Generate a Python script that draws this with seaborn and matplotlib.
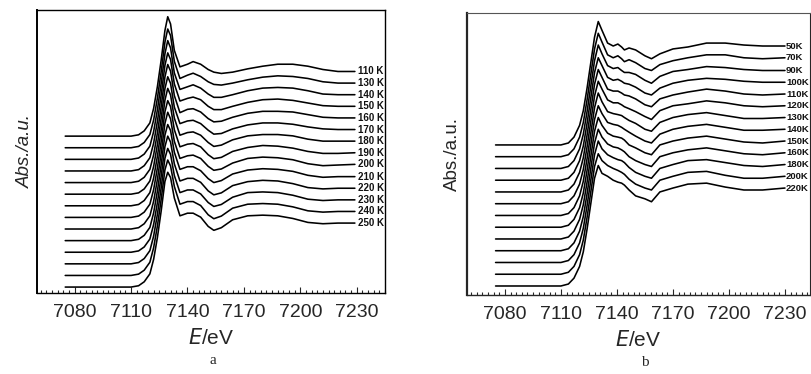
import numpy as np
import pandas as pd
import matplotlib
matplotlib.use("Agg")
import matplotlib.pyplot as plt
import seaborn as sns
from matplotlib.ticker import MultipleLocator

sns.set_style("ticks")
plt.rcParams["font.family"] = ["Liberation Sans", "DejaVu Sans"]

# ---------------- panel a data ----------------
labels_a = ["110 K", "130 K", "140 K", "150 K", "160 K", "170 K", "180 K",
            "190 K", "200 K", "210 K", "220 K", "230 K", "240 K", "250 K"]
edge_E_a = [7075, 7110, 7114, 7117, 7120, 7122, 7124, 7126, 7128]
edge_mu_a = [0.0, 0.0, 0.02, 0.08, 0.20, 0.42, 0.75, 1.15, 1.60]
post_E_a = [7129.5, 7131, 7133, 7136, 7140, 7143, 7147, 7151, 7154, 7158,
            7164, 7172, 7180, 7188, 7196, 7204, 7212, 7220, 7229]
post_mu_a = [
    [1.81, 1.70, 1.30, 1.05, 1.09, 1.13, 1.09, 1.01, 0.97, 0.95, 0.97, 1.02, 1.06, 1.09, 1.09, 1.06, 1.01, 0.98, 0.98],
    [1.80, 1.70, 1.31, 1.05, 1.10, 1.13, 1.08, 1.00, 0.96, 0.95, 0.98, 1.03, 1.07, 1.09, 1.08, 1.05, 1.00, 0.98, 0.98],
    [1.80, 1.69, 1.31, 1.06, 1.10, 1.13, 1.08, 0.99, 0.94, 0.94, 0.98, 1.04, 1.08, 1.09, 1.08, 1.04, 0.99, 0.98, 0.98],
    [1.79, 1.69, 1.32, 1.06, 1.10, 1.12, 1.08, 0.98, 0.93, 0.93, 0.98, 1.04, 1.08, 1.09, 1.07, 1.03, 0.99, 0.98, 0.98],
    [1.79, 1.69, 1.32, 1.06, 1.11, 1.12, 1.07, 0.97, 0.92, 0.93, 0.99, 1.05, 1.08, 1.08, 1.07, 1.03, 0.99, 0.98, 0.98],
    [1.78, 1.68, 1.32, 1.07, 1.11, 1.12, 1.07, 0.97, 0.91, 0.92, 0.99, 1.05, 1.08, 1.08, 1.06, 1.02, 0.99, 0.98, 0.98],
    [1.78, 1.68, 1.33, 1.07, 1.11, 1.12, 1.07, 0.96, 0.90, 0.92, 1.00, 1.06, 1.08, 1.08, 1.06, 1.01, 0.98, 0.98, 0.98],
    [1.77, 1.68, 1.33, 1.07, 1.11, 1.12, 1.07, 0.95, 0.89, 0.91, 1.00, 1.06, 1.09, 1.08, 1.05, 1.00, 0.97, 0.97, 0.98],
    [1.77, 1.67, 1.33, 1.07, 1.11, 1.12, 1.07, 0.95, 0.89, 0.91, 1.00, 1.07, 1.09, 1.08, 1.05, 0.99, 0.96, 0.97, 0.98],
    [1.76, 1.67, 1.34, 1.08, 1.12, 1.12, 1.06, 0.94, 0.88, 0.91, 1.01, 1.07, 1.09, 1.08, 1.05, 0.99, 0.96, 0.97, 0.97],
    [1.76, 1.67, 1.34, 1.08, 1.12, 1.12, 1.06, 0.93, 0.87, 0.90, 1.01, 1.07, 1.09, 1.08, 1.04, 0.98, 0.96, 0.97, 0.97],
    [1.75, 1.66, 1.34, 1.08, 1.12, 1.12, 1.06, 0.93, 0.87, 0.90, 1.01, 1.08, 1.09, 1.08, 1.04, 0.98, 0.96, 0.97, 0.97],
    [1.75, 1.66, 1.35, 1.08, 1.12, 1.12, 1.06, 0.92, 0.86, 0.90, 1.02, 1.08, 1.09, 1.08, 1.04, 0.98, 0.96, 0.97, 0.97],
    [1.74, 1.66, 1.35, 1.08, 1.12, 1.12, 1.06, 0.92, 0.86, 0.90, 1.02, 1.08, 1.09, 1.08, 1.04, 0.98, 0.96, 0.97, 0.97],
]
offset_a = 0.176

# ---------------- panel b data ----------------
labels_b = ["50K", "70K", "90K", "100K", "110K", "120K", "130K",
            "140K", "150K", "160K", "180K", "200K", "220K"]
edge_E_b = [7075, 7110, 7114, 7117, 7120, 7122, 7124, 7126, 7128]
edge_mu_b = [0.0, 0.0, 0.02, 0.08, 0.20, 0.35, 0.58, 0.84, 1.10]
post_E_b = [7130, 7132, 7135, 7138, 7140.5, 7142.5, 7144, 7146.5, 7150, 7155,
            7158.5, 7163, 7170, 7178, 7188, 7198, 7208, 7218, 7230]
post_mu_b = [
    [1.26, 1.17, 1.04, 1.01, 1.03, 1.00, 0.97, 0.99, 0.97, 0.91, 0.88, 0.93, 0.98, 1.00, 1.04, 1.04, 1.02, 1.01, 1.01],
    [1.26, 1.17, 1.04, 1.01, 1.03, 1.00, 0.97, 0.99, 0.96, 0.90, 0.88, 0.94, 0.98, 1.01, 1.04, 1.04, 1.01, 1.00, 1.01],
    [1.26, 1.17, 1.05, 1.02, 1.03, 1.00, 0.98, 0.98, 0.96, 0.90, 0.87, 0.94, 0.99, 1.01, 1.04, 1.03, 1.01, 1.00, 1.00],
    [1.25, 1.17, 1.05, 1.02, 1.03, 1.01, 0.99, 0.98, 0.95, 0.89, 0.87, 0.94, 0.99, 1.02, 1.04, 1.03, 1.01, 1.00, 1.00],
    [1.25, 1.17, 1.05, 1.03, 1.03, 1.01, 0.99, 0.98, 0.95, 0.89, 0.87, 0.95, 0.99, 1.02, 1.05, 1.03, 1.00, 0.99, 1.00],
    [1.25, 1.17, 1.06, 1.03, 1.03, 1.01, 0.99, 0.97, 0.94, 0.89, 0.86, 0.95, 1.00, 1.02, 1.05, 1.03, 1.00, 0.99, 1.00],
    [1.25, 1.16, 1.06, 1.04, 1.03, 1.02, 1.00, 0.97, 0.94, 0.88, 0.86, 0.95, 1.00, 1.03, 1.05, 1.02, 0.99, 0.99, 1.00],
    [1.24, 1.16, 1.07, 1.05, 1.04, 1.02, 1.00, 0.97, 0.93, 0.88, 0.86, 0.95, 1.00, 1.03, 1.05, 1.02, 0.99, 0.99, 1.00],
    [1.24, 1.16, 1.08, 1.05, 1.04, 1.03, 1.01, 0.96, 0.93, 0.88, 0.86, 0.96, 1.00, 1.03, 1.05, 1.02, 0.99, 0.98, 1.00],
    [1.24, 1.16, 1.09, 1.06, 1.05, 1.03, 1.01, 0.96, 0.92, 0.88, 0.86, 0.96, 1.00, 1.03, 1.05, 1.02, 0.99, 0.98, 1.00],
    [1.24, 1.16, 1.10, 1.07, 1.05, 1.04, 1.02, 0.97, 0.92, 0.88, 0.86, 0.96, 1.00, 1.04, 1.05, 1.02, 0.99, 0.98, 1.00],
    [1.23, 1.16, 1.11, 1.08, 1.06, 1.04, 1.02, 0.97, 0.92, 0.88, 0.86, 0.96, 1.00, 1.04, 1.05, 1.01, 0.98, 0.98, 1.00],
    [1.23, 1.15, 1.12, 1.08, 1.06, 1.05, 1.03, 0.98, 0.92, 0.89, 0.86, 0.96, 1.00, 1.04, 1.05, 1.01, 0.98, 0.98, 1.00],
]
offset_b = 0.12

xticks = [7080, 7110, 7140, 7170, 7200, 7230]


def build_df(labels, edge_E, edge_mu, post_E, post_mu, offset):
    rows = []
    n = len(labels)
    for i, (lab, pm) in enumerate(zip(labels, post_mu)):
        off = (n - 1 - i) * offset
        for e, m in zip(list(edge_E) + list(post_E), list(edge_mu) + list(pm)):
            rows.append({"E": e, "mu": m + off, "curve": lab})
    return pd.DataFrame(rows)


df_a = build_df(labels_a, edge_E_a, edge_mu_a, post_E_a, post_mu_a, offset_a)
df_b = build_df(labels_b, edge_E_b, edge_mu_b, post_E_b, post_mu_b, offset_b)

fig = plt.figure(figsize=(8.11, 3.74), dpi=100)
ax_a = fig.add_axes([37 / 811, 81 / 374, 348 / 811, 283 / 374])
ax_b = fig.add_axes([467 / 811, 79 / 374, 343 / 811, 282 / 374])


def draw(ax, df, labels, n, offset, post_mu, xlim, ylim, lab_fs, lab_dx):
    sns.lineplot(data=df, x="E", y="mu", hue="curve", units="curve", estimator=None,
                 sort=False, palette=["black"] * n, legend=False, lw=1.15, ax=ax)
    for i, lab in enumerate(labels):
        yend = post_mu[i][-1] + (n - 1 - i) * offset
        ax.text(xlim[1] - lab_dx, yend, lab, fontsize=lab_fs, fontweight="bold",
                va="center", ha="left", color="#111111")
    ax.set_xlim(*xlim)
    ax.set_ylim(*ylim)
    ax.set_yticks([])
    ax.set_xticks(xticks)
    ax.set_xticklabels([str(t) for t in xticks], fontsize=14)
    ax.xaxis.set_minor_locator(MultipleLocator(3))
    ax.tick_params(axis="x", which="major", direction="in", length=4, width=0.8, pad=8)
    ax.tick_params(axis="x", which="minor", direction="in", length=2, width=0.8)
    return ax


draw(ax_a, df_a, labels_a, len(labels_a), offset_a, post_mu_a,
     (7060, 7245), (-0.09, 4.20), 7.0, 14.5)
draw(ax_b, df_b, labels_b, len(labels_b), offset_b, post_mu_b,
     (7059.7, 7243.4), (-0.092, 2.787), 6.8, 12.8)

for sp in ax_a.spines.values():
    sp.set_linewidth(1.0)
    sp.set_color("black")
ax_a.spines["left"].set_linewidth(1.4)
ax_b.spines["left"].set_linewidth(1.6)
ax_b.spines["bottom"].set_linewidth(1.0)
ax_b.spines["top"].set_linewidth(0.8)
ax_b.spines["top"].set_color("#555555")
ax_b.spines["right"].set_linewidth(0.8)

# axis titles
ax_a.set_xlabel("$\\mathit{E}$/eV", fontsize=15, labelpad=5)
ax_b.set_xlabel("$\\mathit{E}$/eV", fontsize=15, labelpad=5)
ax_a.set_ylabel("Abs./a.u.", fontsize=13.5, style="italic", labelpad=2)
ax_b.set_ylabel("Abs./a.u.", fontsize=13.5, labelpad=4)

fig.text(213 / 811, 1 - 360 / 374, "a", fontsize=11, family="Liberation Serif",
         ha="center", va="center")
fig.text(645 / 811, 1 - 362 / 374, "b", fontsize=11, family="Liberation Serif",
         ha="center", va="center")

fig.savefig("out.png", dpi=100)
